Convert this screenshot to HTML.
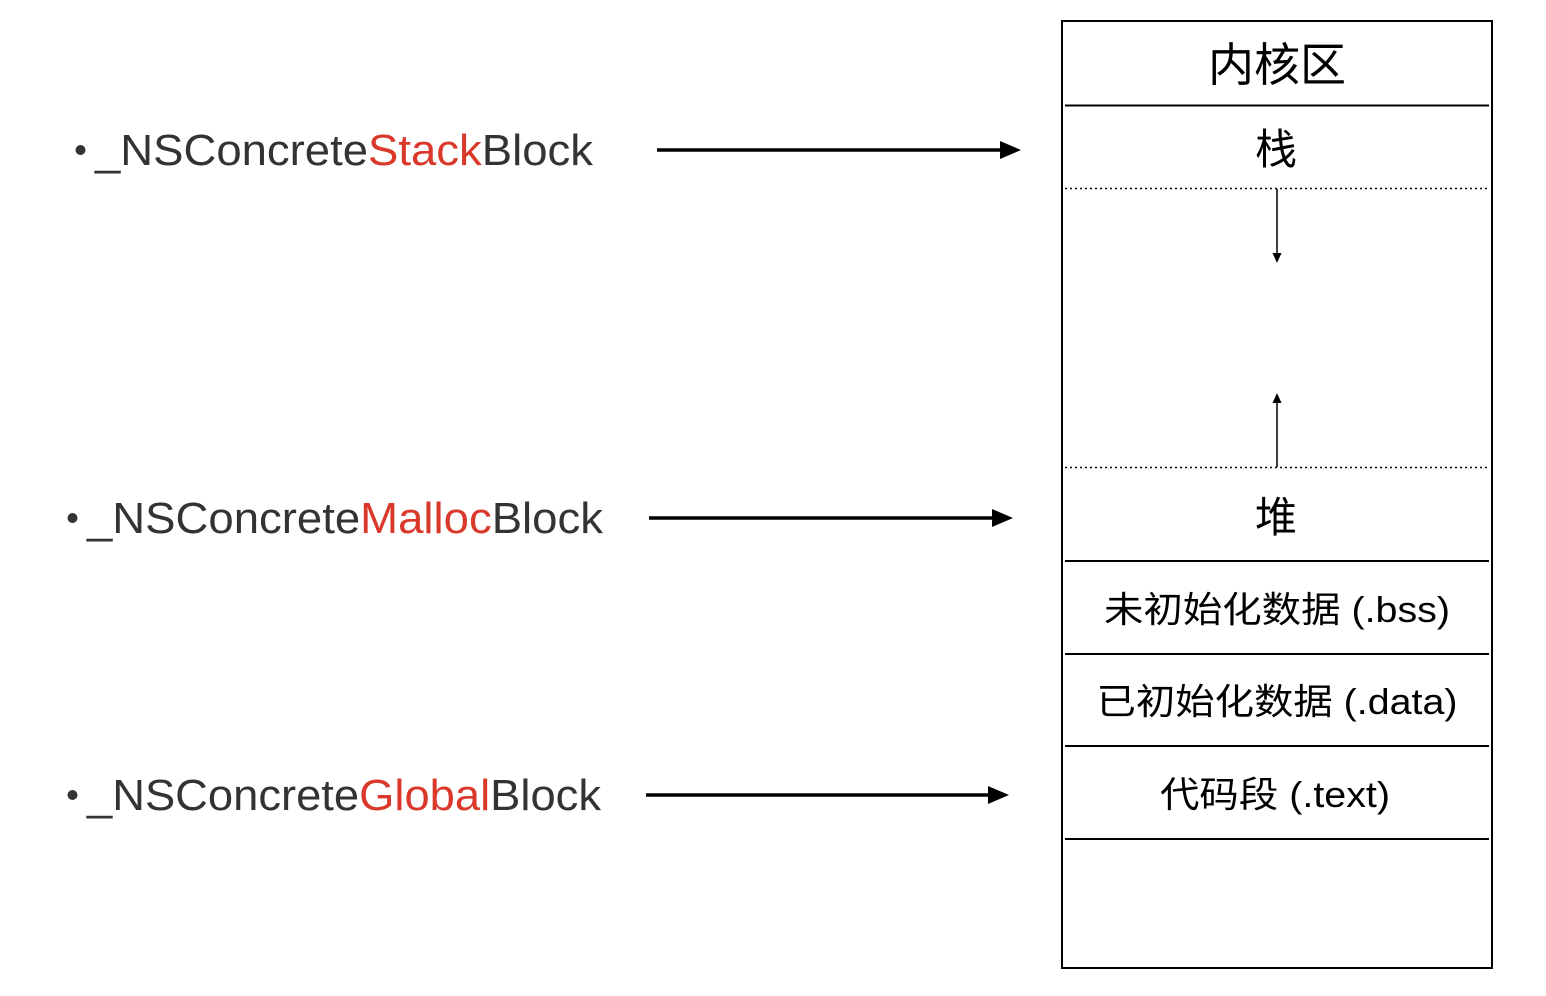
<!DOCTYPE html>
<html><head><meta charset="utf-8"><style>
html,body{margin:0;padding:0;background:#fff;}
svg{display:block;}
</style></head><body>
<svg width="1546" height="996" viewBox="0 0 1546 996" xmlns="http://www.w3.org/2000/svg">
<rect x="1062" y="21" width="430" height="947" fill="none" stroke="#000" stroke-width="2"/>
<g stroke="#000" stroke-width="2">
<line x1="1065" y1="105.5" x2="1489" y2="105.5"/>
<line x1="1065" y1="561" x2="1489" y2="561"/>
<line x1="1065" y1="654" x2="1489" y2="654"/>
<line x1="1065" y1="746" x2="1489" y2="746"/>
<line x1="1065" y1="839" x2="1489" y2="839"/>
</g>
<g stroke="#000" stroke-width="1.5" stroke-dasharray="2,3">
<line x1="1065" y1="188.5" x2="1489" y2="188.5"/>
<line x1="1065" y1="467.5" x2="1489" y2="467.5"/>
</g>
<line x1="1277" y1="189" x2="1277" y2="254" stroke="#000" stroke-width="1.5"/>
<polygon points="1272.5,253 1281.5,253 1277,263" fill="#000"/>
<line x1="1277" y1="467" x2="1277" y2="402" stroke="#000" stroke-width="1.5"/>
<polygon points="1272.5,403 1281.5,403 1277,393" fill="#000"/>

<g font-family="'Liberation Sans','Noto Sans CJK SC',sans-serif" fill="#000" text-anchor="middle">
<text x="1277" y="81" font-size="46">内核区</text>
<text x="1276" y="164" font-size="42">栈</text>
<text x="1276" y="532" font-size="42">堆</text>
<text x="1277" y="622" font-size="36" textLength="346" lengthAdjust="spacingAndGlyphs">未初始化数据 (.bss)</text>
<text x="1277" y="714" font-size="36" textLength="361" lengthAdjust="spacingAndGlyphs">已初始化数据 (.data)</text>
<text x="1275" y="807" font-size="36" textLength="230" lengthAdjust="spacingAndGlyphs">代码段 (.text)</text>
</g>

<g stroke="#000" stroke-width="3.5">
<line x1="657" y1="150" x2="1004" y2="150"/>
<line x1="649" y1="518" x2="996" y2="518"/>
<line x1="646" y1="795" x2="992" y2="795"/>
</g>
<polygon points="1000,141 1021,150 1000,159" fill="#000"/>
<polygon points="992,509 1013,518 992,527" fill="#000"/>
<polygon points="988,786 1009,795 988,804" fill="#000"/>

<g font-family="'Liberation Sans',sans-serif" font-size="44" fill="#333">
<circle cx="80.5" cy="150" r="5" fill="#333"/>
<text x="95" y="165" textLength="498" lengthAdjust="spacingAndGlyphs">_NSConcrete<tspan fill="#d9382a">Stack</tspan>Block</text>
<circle cx="72.5" cy="518" r="5" fill="#333"/>
<text x="87" y="533" textLength="516" lengthAdjust="spacingAndGlyphs">_NSConcrete<tspan fill="#d9382a">Malloc</tspan>Block</text>
<circle cx="72.5" cy="795" r="5" fill="#333"/>
<text x="87" y="810" textLength="514" lengthAdjust="spacingAndGlyphs">_NSConcrete<tspan fill="#d9382a">Global</tspan>Block</text>
</g>
</svg>
</body></html>
